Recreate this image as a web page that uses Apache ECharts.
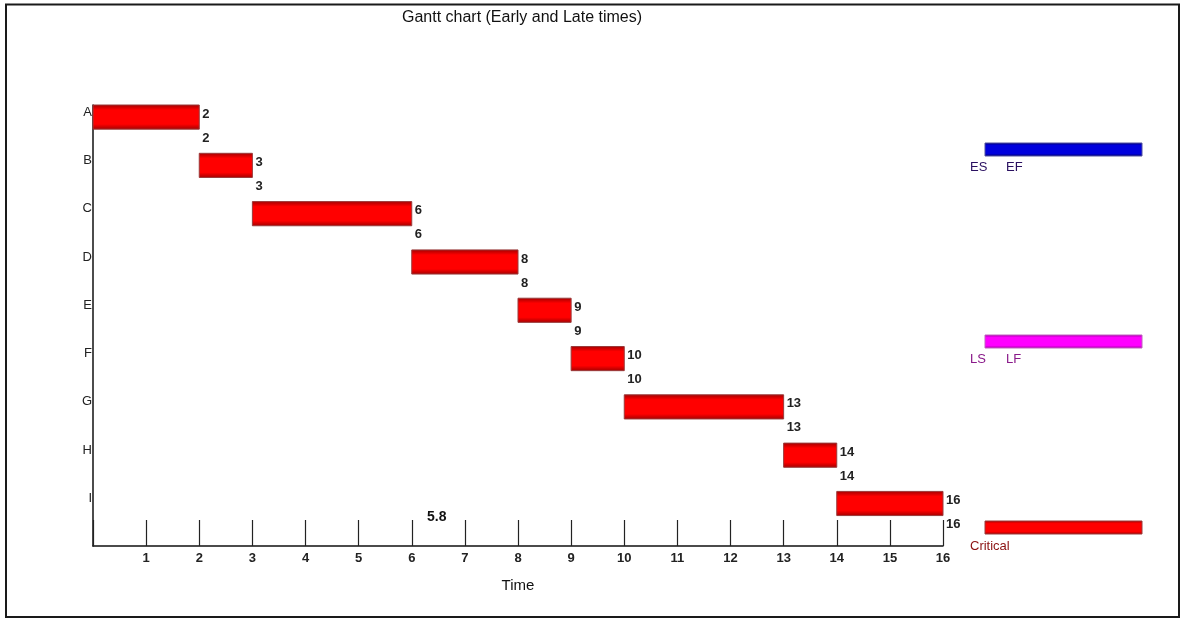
<!DOCTYPE html>
<html>
<head>
<meta charset="utf-8">
<script src="https://cdn.jsdelivr.net/npm/echarts@6/dist/echarts.min.js"></script>
<style>html,body{margin:0;padding:0;background:#fff;}#c{width:1182px;height:619px;}</style>
</head>
<body>
<div id="c"></div>
<script>
const tasks = ['A','B','C','D','E','F','G','H','I'];
const earlyStart = [0,2,3,6,8,9,10,13,14];
const earlyFinish = [2,3,6,8,9,10,13,14,16];
const lateStart = [0,2,3,6,8,9,10,13,14];
const lateFinish = [2,3,6,8,9,10,13,14,16];
const critical = [true,true,true,true,true,true,true,true,true];
const xTicks = [1,2,3,4,5,6,7,8,9,10,11,12,13,14,15,16];
const annotation = '5.8';

const FONT = 'Liberation Sans';
const chart = echarts.init(document.getElementById('c'));
const data = tasks.map((t,i)=>[i, earlyStart[i], earlyFinish[i], lateStart[i], lateFinish[i], critical[i]?1:0]);

function barFill(base, dark){
  return new echarts.graphic.LinearGradient(0,0,0,1,[
    {offset:0,color:dark},{offset:0.22,color:base},{offset:0.78,color:base},{offset:1,color:dark}
  ]);
}

function renderItem(params, api){
  const idx = api.value(0);
  const p0 = api.coord([api.value(1), idx]);
  const p1 = api.coord([api.value(2), idx]);
  const pl = api.coord([api.value(4), idx]);
  const h = api.size([0,1])[1]*0.5;
  const top = p0[1]-h/2;
  return {type:'group', children:[
    {type:'rect', shape:{x:p0[0], y:top, width:p1[0]-p0[0], height:h},
     style:{fill:barFill('#ff0000','#a00000'), stroke:'#9a3a3a', lineWidth:1}},
    {type:'text', x:p1[0]+3, y:p0[1]-3, style:{text:String(api.value(2)), font:'bold 13px '+FONT, fill:'#222', verticalAlign:'middle', align:'left'}},
    {type:'text', x:pl[0]+3, y:p0[1]+21, style:{text:String(api.value(4)), font:'bold 13px '+FONT, fill:'#222', verticalAlign:'middle', align:'left'}},
    {type:'text', x:92, y:p0[1]-5, style:{text:tasks[idx], font:'13px '+FONT, fill:'#222', verticalAlign:'middle', align:'right'}}
  ]};
}

const option = {
  backgroundColor:'#fff',
  animation:false,
  title:{text:'Gantt chart (Early and Late times)', left:517, top:5, textAlign:'center',
    textStyle:{fontFamily:FONT, fontSize:16, fontWeight:'normal', color:'#111'}},
  grid:{left:93, right:239, top:105, bottom:73, containLabel:false},
  xAxis:{type:'value', min:0, max:16, interval:1,
    name:'Time', nameLocation:'middle', nameGap:32,
    nameTextStyle:{fontFamily:FONT, fontSize:15, color:'#111'},
    axisLine:{show:true, onZero:false, lineStyle:{color:'#111', width:1.5}},
    axisTick:{show:true, inside:true, length:26, lineStyle:{color:'#222', width:1.2}},
    axisLabel:{fontFamily:FONT, fontSize:13, fontWeight:'bold', color:'#222', margin:6,
      formatter:function(v){ return xTicks.indexOf(v)>=0 ? String(v) : ''; }},
    splitLine:{show:false}},
  yAxis:{type:'value', inverse:true, min:-0.25, max:8.88,
    axisLine:{show:true, onZero:false, lineStyle:{color:'#111', width:1.5}},
    axisTick:{show:false}, axisLabel:{show:false}, splitLine:{show:false}},
  series:[{type:'custom', renderItem:renderItem, data:data, encode:{x:[1,2], y:0}, clip:false}],
  graphic:[
    {type:'rect', shape:{x:6, y:4.5, width:1173, height:612.5}, style:{fill:'none', stroke:'#1a1a1a', lineWidth:2}, z:-1},
    {type:'text', left:427, top:510, style:{text:annotation, font:'bold 14px '+FONT, fill:'#111'}},
    {type:'rect', shape:{x:985, y:143, width:157, height:13}, style:{fill:barFill('#0000dd','#000070'), stroke:'#5050a0', lineWidth:1}},
    {type:'text', x:970, y:161, style:{text:'ES', font:'13px '+FONT, fill:'#2a1060'}},
    {type:'text', x:1006, y:161, style:{text:'EF', font:'13px '+FONT, fill:'#2a1060'}},
    {type:'rect', shape:{x:985, y:335, width:157, height:13}, style:{fill:barFill('#ff00ff','#a000a0'), stroke:'#c060c0', lineWidth:1}},
    {type:'text', x:970, y:353, style:{text:'LS', font:'13px '+FONT, fill:'#8a1a8a'}},
    {type:'text', x:1006, y:353, style:{text:'LF', font:'13px '+FONT, fill:'#8a1a8a'}},
    {type:'rect', shape:{x:985, y:521, width:157, height:13}, style:{fill:barFill('#ff0000','#a00000'), stroke:'#9a3a3a', lineWidth:1}},
    {type:'text', x:970, y:540, style:{text:'Critical', font:'13px '+FONT, fill:'#8b1010'}}
  ]
};
chart.setOption(option);
</script>
</body>
</html>
